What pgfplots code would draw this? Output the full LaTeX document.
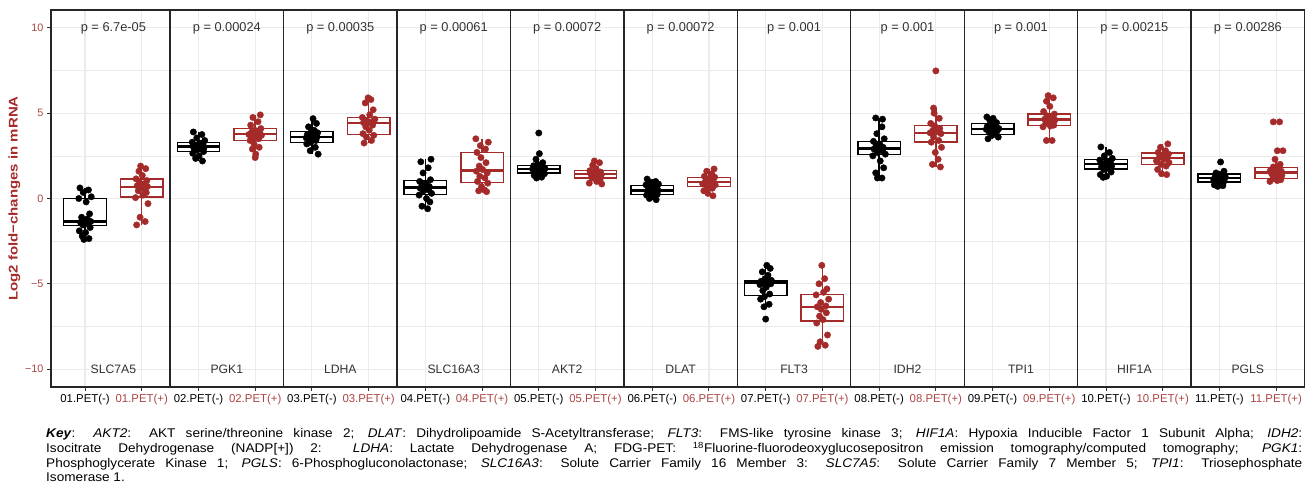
\documentclass[border=0pt]{standalone}
\usepackage{fontspec}
\setmainfont{Liberation Sans}
\newfontfamily\keyfont{Liberation Sans}[FakeStretch=1.08]
\newfontfamily\labfont{Liberation Sans}[FakeStretch=1.19]
\usepackage{pgfplots}
\usepackage{pgfplotstable}
\pgfplotsset{compat=1.18}
\usepgfplotslibrary{statistics}
\definecolor{brn}{RGB}{165,42,42}
\definecolor{brnlt}{RGB}{172,68,68}
\definecolor{gridc}{RGB}{235,235,235}
\definecolor{txtg}{RGB}{50,50,50}

\pgfplotstableread{
x y
0.41 0.62
0.56 0.5
0.47 0.35
0.61 0.1
0.39 0.0
0.52 -0.2
0.58 -0.9
0.44 -1.1
0.54 -1.2
0.49 -1.3
0.60 -1.35
0.42 -1.4
0.55 -1.5
0.46 -1.55
0.59 -1.7
0.40 -1.9
0.51 -2.0
0.45 -2.2
0.57 -2.35
0.48 -2.4
2.41 3.9
2.56 3.75
2.47 3.55
2.61 3.4
2.39 3.3
2.52 3.25
2.58 3.2
2.44 3.1
2.54 3.05
2.49 3.05
2.60 3.0
2.42 2.95
2.55 2.9
2.46 2.85
2.59 2.75
2.40 2.65
2.51 2.5
2.45 2.35
2.57 2.2
4.52 4.68
4.58 4.4
4.44 4.2
4.54 4.0
4.49 3.93
4.60 3.85
4.42 3.75
4.55 3.7
4.46 3.65
4.59 3.6
4.40 3.55
4.51 3.5
4.45 3.45
4.57 3.4
4.48 3.3
4.41 3.2
4.56 3.0
4.47 2.8
4.61 2.6
6.60 2.3
6.42 2.15
6.55 1.8
6.46 1.5
6.59 1.1
6.40 1.0
6.51 0.9
6.45 0.8
6.57 0.7
6.48 0.65
6.41 0.6
6.56 0.5
6.47 0.45
6.61 0.3
6.39 0.2
6.52 0.0
6.58 -0.2
6.44 -0.45
6.54 -0.6
8.50 3.84
8.51 2.63
8.45 2.3
8.57 2.1
8.48 2.0
8.41 1.92
8.56 1.85
8.47 1.8
8.61 1.75
8.39 1.73
8.52 1.7
8.58 1.65
8.44 1.6
8.54 1.55
8.49 1.5
8.60 1.45
8.42 1.35
8.55 1.25
8.46 1.2
10.41 1.14
10.56 1.0
10.47 0.95
10.61 0.85
10.39 0.8
10.52 0.75
10.58 0.65
10.44 0.6
10.54 0.55
10.49 0.5
10.60 0.48
10.42 0.45
10.55 0.4
10.46 0.35
10.59 0.25
10.40 0.2
10.51 0.1
10.45 0.0
10.57 -0.07
12.52 -3.92
12.58 -4.1
12.44 -4.3
12.54 -4.5
12.49 -4.7
12.60 -4.8
12.42 -4.85
12.55 -4.9
12.46 -4.95
12.59 -5.0
12.40 -5.05
12.51 -5.2
12.45 -5.4
12.57 -5.6
12.48 -5.75
12.41 -5.9
12.56 -6.2
12.47 -6.35
12.50 -7.07
14.44 4.72
14.56 4.65
14.55 4.2
14.46 3.8
14.59 3.5
14.40 3.35
14.51 3.2
14.45 3.1
14.57 3.0
14.48 2.95
14.41 2.9
14.56 2.8
14.47 2.7
14.61 2.6
14.39 2.5
14.52 2.2
14.58 1.8
14.44 1.5
14.47 1.2
14.55 1.2
16.40 4.78
16.51 4.7
16.45 4.6
16.57 4.45
16.48 4.35
16.41 4.25
16.56 4.2
16.47 4.15
16.61 4.1
16.39 4.05
16.52 4.0
16.58 3.95
16.44 3.9
16.54 3.8
16.49 3.7
16.60 3.6
16.42 3.5
18.41 3.02
18.56 2.7
18.47 2.5
18.61 2.35
18.39 2.25
18.52 2.2
18.58 2.1
18.44 2.05
18.54 2.0
18.49 1.95
18.60 1.9
18.42 1.85
18.55 1.75
18.46 1.7
18.59 1.55
18.40 1.4
18.51 1.3
18.45 1.24
20.52 2.14
20.58 1.6
20.44 1.5
20.54 1.42
20.49 1.35
20.60 1.3
20.42 1.25
20.55 1.2
20.46 1.18
20.59 1.15
20.40 1.1
20.51 1.05
20.45 1.0
20.57 0.95
20.48 0.9
20.41 0.8
20.56 0.75
20.47 0.71
}\blackpts

\pgfplotstableread{
x y
1.48 1.9
1.57 1.75
1.45 1.6
1.51 1.35
1.40 1.15
1.59 1.05
1.46 0.95
1.55 0.85
1.42 0.75
1.60 0.7
1.49 0.65
1.54 0.55
1.44 0.45
1.58 0.35
1.52 0.2
1.39 0.05
1.61 -0.3
1.47 -1.1
1.56 -1.35
1.41 -1.55
3.59 4.9
3.46 4.75
3.55 4.5
3.42 4.3
3.60 4.1
3.49 4.0
3.54 3.95
3.44 3.9
3.58 3.85
3.52 3.8
3.39 3.75
3.61 3.7
3.47 3.6
3.56 3.5
3.41 3.4
3.48 3.2
3.57 3.0
3.45 2.9
3.51 2.6
3.50 2.4
5.49 5.9
5.54 5.8
5.44 5.6
5.58 5.2
5.52 4.9
5.39 4.75
5.61 4.65
5.47 4.55
5.56 4.5
5.41 4.45
5.48 4.4
5.57 4.3
5.45 4.2
5.51 4.0
5.40 3.8
5.59 3.7
5.46 3.6
5.55 3.4
5.42 3.25
7.39 3.5
7.61 3.3
7.47 3.1
7.56 2.9
7.41 2.7
7.48 2.4
7.57 2.1
7.45 1.9
7.51 1.7
7.40 1.6
7.59 1.5
7.46 1.3
7.55 1.2
7.42 1.0
7.60 0.9
7.49 0.7
7.54 0.5
7.44 0.45
7.58 0.4
9.48 2.2
9.57 2.1
9.45 1.95
9.51 1.75
9.40 1.63
9.59 1.55
9.46 1.5
9.55 1.45
9.42 1.42
9.60 1.38
9.49 1.3
9.54 1.25
9.44 1.2
9.58 1.1
9.52 1.0
9.39 0.9
9.61 0.85
11.59 1.73
11.46 1.6
11.55 1.45
11.42 1.3
11.60 1.25
11.49 1.15
11.54 1.05
11.44 1.0
11.58 0.97
11.52 0.92
11.39 0.85
11.61 0.8
11.47 0.7
11.56 0.6
11.41 0.45
11.48 0.3
11.57 0.16
13.49 -3.92
13.54 -4.7
13.44 -5.0
13.58 -5.3
13.52 -5.5
13.39 -5.65
13.61 -5.9
13.47 -6.1
13.56 -6.3
13.41 -6.35
13.48 -6.5
13.57 -6.7
13.45 -6.9
13.51 -7.1
13.40 -7.3
13.59 -8.0
13.46 -8.4
13.55 -8.6
13.42 -8.67
15.50 7.48
15.46 5.3
15.47 5.0
15.56 4.7
15.41 4.4
15.48 4.25
15.57 4.1
15.45 4.0
15.51 3.9
15.40 3.85
15.59 3.8
15.46 3.6
15.55 3.4
15.42 3.3
15.60 3.0
15.49 2.7
15.54 2.3
15.44 2.0
15.58 1.85
17.48 6.03
17.57 5.9
17.45 5.7
17.51 5.4
17.40 5.1
17.59 4.95
17.46 4.85
17.55 4.75
17.42 4.65
17.60 4.6
17.49 4.55
17.54 4.45
17.44 4.4
17.58 4.3
17.52 4.25
17.39 4.2
17.45 3.4
17.55 3.4
19.59 3.2
19.46 3.0
19.55 2.8
19.42 2.7
19.60 2.6
19.49 2.5
19.54 2.45
19.44 2.4
19.58 2.35
19.52 2.3
19.39 2.2
19.61 2.1
19.47 2.0
19.56 1.9
19.41 1.7
19.48 1.45
19.57 1.4
21.45 4.49
21.56 4.49
21.52 2.8
21.62 2.8
21.48 2.3
21.57 2.0
21.45 1.85
21.51 1.75
21.40 1.65
21.59 1.6
21.46 1.55
21.55 1.5
21.42 1.45
21.60 1.35
21.49 1.25
21.54 1.2
21.44 1.15
21.58 1.1
21.52 1.05
21.39 1.0
}\redpts

\pgfplotsset{bxs/.style={line width=1.4pt, fill=white,
  boxplot/draw direction=y,
  boxplot/box extend=0.75, boxplot/whisker extend=0,
  boxplot/every median/.style={line width=2.6pt}}}
\newcommand{\bx}[7]{\addplot[#1, bxs, boxplot prepared={draw position=#2,
  lower whisker=#3, lower quartile=#4, median=#5, upper quartile=#6,
  upper whisker=#7}] coordinates {};}

\begin{document}
\begin{tikzpicture}
\useasboundingbox (0,0) rectangle (1312pt,501pt);
\begin{axis}[
  at={(51pt,114pt)}, anchor=south west,
  scale only axis, width=1253.5pt, height=377pt,
  xmin=-0.1, xmax=22, ymin=-11.05, ymax=11.05,
  xtick={0.5,1.5,2.5,3.5,4.5,5.5,6.5,7.5,8.5,9.5,10.5,11.5,12.5,13.5,14.5,15.5,16.5,17.5,18.5,19.5,20.5,21.5},
  xticklabels={01.PET(-),\textcolor{brnlt}{01.PET(+)},02.PET(-),\textcolor{brnlt}{02.PET(+)},
    03.PET(-),\textcolor{brnlt}{03.PET(+)},04.PET(-),\textcolor{brnlt}{04.PET(+)},
    05.PET(-),\textcolor{brnlt}{05.PET(+)},06.PET(-),\textcolor{brnlt}{06.PET(+)},
    07.PET(-),\textcolor{brnlt}{07.PET(+)},08.PET(-),\textcolor{brnlt}{08.PET(+)},
    09.PET(-),\textcolor{brnlt}{09.PET(+)},10.PET(-),\textcolor{brnlt}{10.PET(+)},
    11.PET(-),\textcolor{brnlt}{11.PET(+)}},
  ytick={-10,-5,0,5,10}, yticklabels={−10,−5,0,5,10},
  minor ytick={-7.5,-2.5,2.5,7.5},
  minor xtick={},
  grid=both,
  major grid style={color=gridc, line width=1.1pt},
  minor grid style={color=gridc, line width=0.6pt},
  axis line style={black!85, line width=1.4pt},
  tick align=outside, xtick pos=left, ytick pos=left,
  major tick length=4pt, minor tick length=0pt,
  tick style={black!80, line width=1pt},
  xticklabel style={font=\fontsize{11.4}{12}\selectfont, text=black},
  yticklabel style={font=\fontsize{10.8}{12}\selectfont, text=brnlt},
  clip=false,
]
\pgfplotsinvokeforeach{2,4,6,8,10,12,14,16,18,20}{
  \draw[black!85, line width=1.4pt] (axis cs:#1,-11.05) -- (axis cs:#1,11.05);
}
% black boxes: pos, lower whisker, Q1, median, Q3, upper whisker
\bx{black}{0.5}{-2.4}{-1.6}{-1.35}{0.0}{0.62}
\bx{black}{2.5}{2.2}{2.76}{3.05}{3.3}{3.9}
\bx{black}{4.5}{2.6}{3.3}{3.6}{3.93}{4.68}
\bx{black}{6.5}{-0.6}{0.22}{0.65}{1.06}{2.3}
\bx{black}{8.5}{1.2}{1.5}{1.73}{1.92}{2.3}
\bx{black}{10.5}{-0.07}{0.22}{0.48}{0.75}{1.14}
\bx{black}{12.5}{-6.35}{-5.70}{-4.94}{-4.82}{-3.92}
\bx{black}{14.5}{1.2}{2.57}{2.92}{3.35}{4.72}
\bx{black}{16.5}{3.5}{3.74}{4.07}{4.39}{4.78}
\bx{black}{18.5}{1.24}{1.73}{2.02}{2.28}{3.02}
\bx{black}{20.5}{0.71}{0.97}{1.2}{1.44}{1.6}
% red boxes
\bx{brn}{1.5}{-1.55}{0.08}{0.67}{1.15}{1.9}
\bx{brn}{3.5}{2.4}{3.4}{3.78}{4.1}{4.9}
\bx{brn}{5.5}{3.25}{3.74}{4.43}{4.75}{5.9}
\bx{brn}{7.5}{0.4}{0.94}{1.63}{2.68}{3.5}
\bx{brn}{9.5}{0.85}{1.2}{1.44}{1.63}{2.2}
\bx{brn}{11.5}{0.16}{0.71}{0.97}{1.24}{1.73}
\bx{brn}{13.5}{-8.67}{-7.17}{-6.35}{-5.62}{-3.92}
\bx{brn}{15.5}{1.85}{3.31}{3.84}{4.29}{5.3}
\bx{brn}{17.5}{3.4}{4.27}{4.62}{4.96}{6.03}
\bx{brn}{19.5}{1.4}{1.98}{2.37}{2.67}{3.2}
\bx{brn}{21.5}{1.0}{1.16}{1.53}{1.82}{2.3}
\addplot[only marks, mark=*, mark size=3.2pt, black, mark options={draw=black, fill=black}] table[x=x,y=y] {\blackpts};
\addplot[only marks, mark=*, mark size=3.2pt, brn, mark options={draw=brn, fill=brn}] table[x=x,y=y] {\redpts};
% p values
\begin{scope}[every node/.style={text=txtg, font=\fontsize{12.8}{13}\selectfont}]
\node at (axis cs:1,10) {p = 6.7e-05};
\node at (axis cs:3,10) {p = 0.00024};
\node at (axis cs:5,10) {p = 0.00035};
\node at (axis cs:7,10) {p = 0.00061};
\node at (axis cs:9,10) {p = 0.00072};
\node at (axis cs:11,10) {p = 0.00072};
\node at (axis cs:13,10) {p = 0.001};
\node at (axis cs:15,10) {p = 0.001};
\node at (axis cs:17,10) {p = 0.001};
\node at (axis cs:19,10) {p = 0.00215};
\node at (axis cs:21,10) {p = 0.00286};
\end{scope}
\begin{scope}[every node/.style={text=txtg, font=\fontsize{12.2}{13}\selectfont}]
\node at (axis cs:1,-10) {SLC7A5};
\node at (axis cs:3,-10) {PGK1};
\node at (axis cs:5,-10) {LDHA};
\node at (axis cs:7,-10) {SLC16A3};
\node at (axis cs:9,-10) {AKT2};
\node at (axis cs:11,-10) {DLAT};
\node at (axis cs:13,-10) {FLT3};
\node at (axis cs:15,-10) {IDH2};
\node at (axis cs:17,-10) {TPI1};
\node at (axis cs:19,-10) {HIF1A};
\node at (axis cs:21,-10) {PGLS};
\end{scope}
\end{axis}
\node[rotate=90, anchor=center, text=brn, font=\labfont\bfseries\fontsize{12.6}{14}\selectfont] at (14.5pt,302.5pt) {Log2 fold−changes in mRNA};
\node[anchor=north west, inner sep=0pt, align=left, font=\keyfont\fontsize{12.6}{14.7}\selectfont] at (46pt,72.6pt) {%
\makebox[1256pt][s]{\textbf{\textit{Key}}: \textit{AKT2}: AKT serine/threonine kinase 2; \textit{DLAT}: Dihydrolipoamide S-Acetyltransferase; \textit{FLT3}: FMS-like tyrosine kinase 3; \textit{HIF1A}: Hypoxia Inducible Factor 1 Subunit Alpha; \textit{IDH2}:}\\
\makebox[1256pt][s]{Isocitrate Dehydrogenase (NADP[+]) 2: \textit{LDHA}: Lactate Dehydrogenase A; FDG-PET: \textsuperscript{18}Fluorine-fluorodeoxyglucosepositron emission tomography/computed tomography; \textit{PGK1}:}\\
\makebox[1256pt][s]{Phosphoglycerate Kinase 1; \textit{PGLS}: 6-Phosphogluconolactonase; \textit{SLC16A3}: Solute Carrier Family 16 Member 3: \textit{SLC7A5}: Solute Carrier Family 7 Member 5; \textit{TPI1}: Triosephosphate}\\
Isomerase 1.};
\end{tikzpicture}
\end{document}
